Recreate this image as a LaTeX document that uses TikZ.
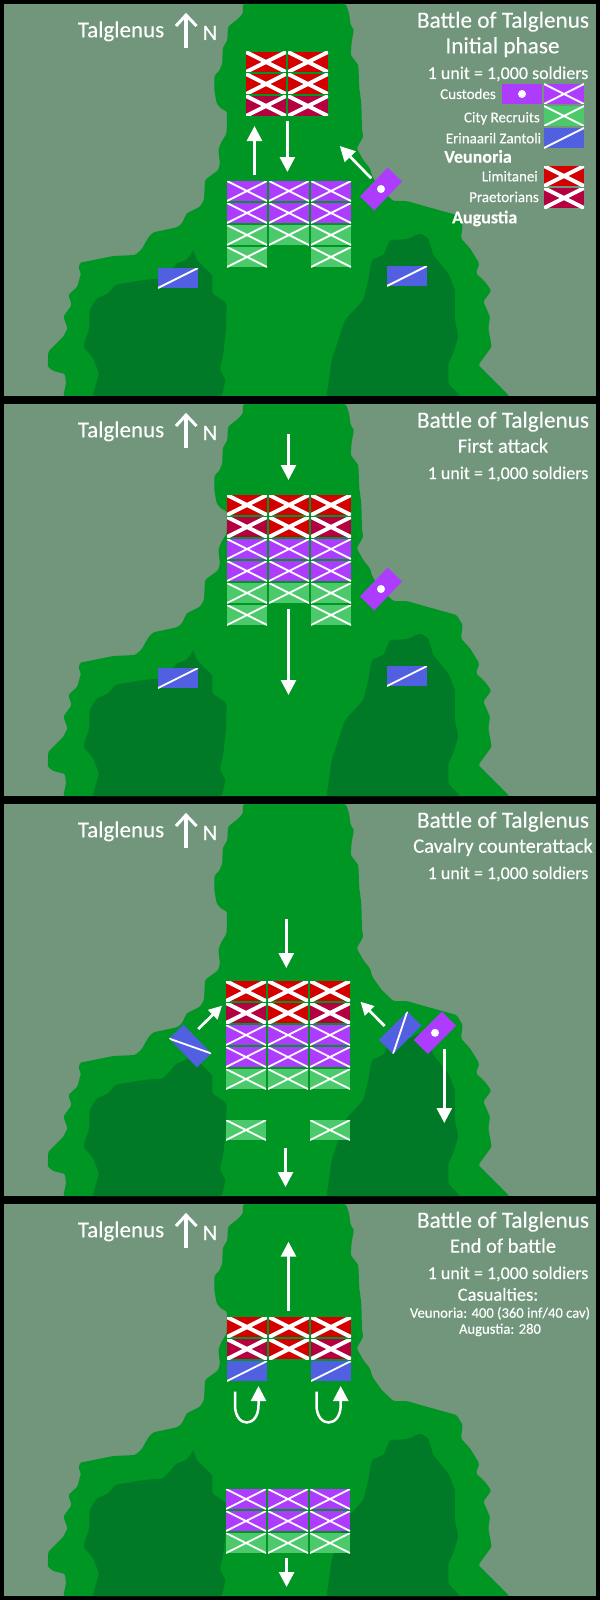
\documentclass[tikz,border=0pt]{standalone}
\usepackage{fontspec}
\setmainfont[FakeBold=0.2]{Carlito}
\usetikzlibrary{arrows.meta}
\definecolor{sea}{RGB}{113,150,124}
\definecolor{land}{RGB}{0,150,36}
\definecolor{forest}{RGB}{0,122,38}
\definecolor{purp}{RGB}{174,60,255}
\definecolor{recruit}{RGB}{76,201,106}
\definecolor{cav}{RGB}{80,96,224}
\definecolor{redu}{RGB}{212,0,0}
\definecolor{crim}{RGB}{181,0,64}
\tikzset{
  move/.style={white,line width=2.7pt,-{Triangle[length=15pt,width=15pt]}},
  movesm/.style={white,line width=2.7pt,-{Triangle[length=13pt,width=13pt]}},
  uturn/.style={white,line width=2.5pt,-{Triangle[length=15pt,width=15pt]}},
  label/.style={text=white,inner sep=0pt,anchor=base},
  titletext/.style={label,font=\fontsize{23.2}{24}\selectfont},
  subtext/.style={label,font=\fontsize{20.5}{22}\selectfont},
  unittext/.style={label,font=\fontsize{18}{20}\selectfont},
  legtext/.style={label,anchor=base east,font=\fontsize{15}{16}\selectfont},
  sidetext/.style={label,font=\bfseries\fontsize{18}{20}\selectfont},
  castext/.style={label,font=\fontsize{14.6}{16}\selectfont},
}
% unit with a white cross; args: left, top, colour, cross width
\newcommand\xunit[4]{\begin{scope}[shift={(#1+20,#2+10)}]
  \fill[#3] (-20,-10) rectangle (20,10);
  \begin{scope}\clip (-20,-10) rectangle (20,10);
  \draw[white,line width=#4pt] (-20,-10)--(20,10) (-20,10)--(20,-10);
  \end{scope}\end{scope}}
\newcommand\uR[2]{\xunit{#1}{#2}{redu}{4}}
\newcommand\uC[2]{\xunit{#1}{#2}{crim}{4}}
\newcommand\uP[2]{\xunit{#1}{#2}{purp}{1.8}}
\newcommand\uG[2]{\xunit{#1}{#2}{recruit}{1.8}}
% cavalry, args: centre x, centre y, rotation
\newcommand\uB[3]{\begin{scope}[shift={(#1,#2)},rotate=#3]
  \fill[cav] (-20,-10) rectangle (20,10);
  \begin{scope}\clip (-20,-10) rectangle (20,10);
  \draw[white,line width=1.8pt] (-20,10)--(20,-10);
  \end{scope}\end{scope}}
\newcommand\uK[3]{\begin{scope}[shift={(#1,#2)},rotate=#3]
  \fill[purp] (-20,-10) rectangle (20,10);
  \fill[white] (0,0) circle (4);
  \end{scope}}
\newcommand\rowP[2]{\uP{#1}{#2}\uP{#1+42}{#2}\uP{#1+84}{#2}}
\newcommand\rowG[2]{\uG{#1}{#2}\uG{#1+42}{#2}\uG{#1+84}{#2}}
\newcommand\rowR[2]{\uR{#1}{#2}\uR{#1+42}{#2}\uR{#1+84}{#2}}
\newcommand\rowM[2]{\uC{#1}{#2}\uR{#1+42}{#2}\uC{#1+84}{#2}}
% base map shared by every panel
\newcommand\basemap[1]{%
  \fill[sea] (4,4) rectangle (596,396);
  \begin{scope}[x=0.33333pt,y=-0.33333pt]
  \fill[land,rounded corners=1.5pt] (1038,12)--(1047,40)--(1052,75)--(1062,90)--(1055,125)--(1052,165)--(1075,195)--(1078,265)--(1084,310)--(1086,390)--(1090,410)--(1070,445)--(1090,480)--(1110,505)--(1117,530)--(1145,570)--(1180,603)--(1220,603)--(1280,620)--(1370,645)--(1388,675)--(1383,715)--(1410,745)--(1438,790)--(1428,820)--(1455,845)--(1474,872)--(1450,905)--(1470,950)--(1465,985)--(1475,1040)--(1435,1095)--(1490,1150)--(1528,1188)--
  (190,1188)--(198,1150)--(195,1122)--(160,1113)--(143,1100)--(145,1055)--(190,1010)--(203,985)--(190,950)--(215,915)--(205,885)--(232,860)--(243,820)--(236,805)--(240,788)--(340,768)--(405,765)--(425,748)--(445,712)--(460,697)--(530,682)--(545,672)--(560,640)--(600,620)--(612,600)--(615,540)--(655,510)--(660,490)--(655,450)--(662,430)--(680,400)--(681,335)--(662,325)--(650,310)--(643,270)--(643,228)--(658,212)--(667,190)--(668,145)--(682,120)--(684,80)--(712,58)--(729,40)--(729,12)--cycle;
  \fill[forest,rounded corners=1.5pt] (278,1188)--(297,1120)--(280,1075)--(250,1040)--(268,985)--(268,930)--(290,895)--(325,880)--(345,855)--(430,840)--(490,835)--(530,790)--(560,780)--(580,750)--(590,780)--(637,825)--(637,880)--(680,910)--(677,1000)--(670,1060)--(660,1110)--(677,1140)--(665,1188)--cycle;
  \fill[forest,rounded corners=1.5pt] (980,1188)--(995,1080)--(1035,960)--(1090,900)--(1105,840)--(1115,780)--(1150,765)--(1170,720)--(1220,718)--(1260,700)--(1285,715)--(1300,765)--(1345,820)--(1365,870)--(1365,960)--(1375,1010)--(1360,1060)--(1345,1090)--(1345,1150)--(1380,1188)--cycle;
  \end{scope}
  \node[label,font=\fontsize{23}{24}\selectfont] (place) at (121,37.3) {Talglenus};
  \draw[white,line width=3.6pt] (186,48)--(186,15);
  \draw[white,line width=3pt] (176,26)--(186,15)--(196.5,26);
  \node[label,font=\fontsize{22}{24}\selectfont] (north) at (210,40) {N};
  \node[titletext] (title) at (503,27.7) {Battle of Talglenus};
  \node[unittext] (scale) at (508,79) {1 unit = 1,000 soldiers};
  \node[subtext] (phase) at (503,52.7) {#1};
}
\begin{document}
\begin{tikzpicture}[x=1pt,y=-1pt]
\useasboundingbox (0,0) rectangle (600,1600);
\fill[black] (0,0) rectangle (600,1600);
% ---------- Panel 1
\begin{scope}[shift={(0,0)},name prefix=a-]
\basemap{}
\node[titletext] (phaseone) at (502.5,53.3) {Initial phase};
\uR{246}{52}\uR{288}{52}\uR{246}{74}\uR{288}{74}\uC{246}{96}\uC{288}{96}
\rowP{227}{181}\rowP{227}{203}\rowG{227}{225}\uG{227}{247}\uG{311}{247}
\uB{178}{278}{0}\uB{407}{276}{0}
\uK{381}{189}{46}
\draw[move] (254.5,175)--(254.5,126);
\draw[move] (287.4,121)--(287.4,172);
\draw[move] (371.2,178.3)--(339.8,146);
\node[legtext] (l1) at (496,99) {Custodes};
\node[legtext] (l2) at (540,122.3) {City Recruits};
\node[legtext] (l3) at (541.3,143.3) {Erinaaril Zantoli};
\node[sidetext] (l4) at (478,162.7) {Veunoria};
\node[legtext] (l5) at (538,181.3) {Limitanei};
\node[legtext] (l6) at (539,202) {Praetorians};
\node[sidetext] (l7) at (484.7,223.3) {Augustia};
\uK{522}{94}{0}\uP{544}{84}\uG{544}{106}\uB{564}{138}{0}\uR{544}{166}\uC{544}{188}
\end{scope}
% ---------- Panel 2
\begin{scope}[shift={(0,400)},name prefix=b-]
\basemap{First attack}
\rowR{227}{95}\rowM{227}{117}\rowP{227}{139}\rowP{227}{161}\rowG{227}{183}\uG{227}{205}\uG{311}{205}
\uB{178}{278}{0}\uB{407}{276}{0}
\uK{381}{189}{46}
\draw[move] (288.5,34)--(288.5,80);
\draw[move] (288.5,209)--(288.5,295);
\end{scope}
% ---------- Panel 3
\begin{scope}[shift={(0,800)},name prefix=c-]
\basemap{Cavalry counterattack}
\rowR{226}{181}\rowM{226}{203}\rowP{226}{225}\rowP{226}{247}\rowG{226}{269}\uG{226}{320}\uG{310}{320}
\uB{190.2}{246}{-46}\uB{400.2}{232.7}{45}
\uK{435}{232.8}{45}
\draw[move] (286.3,119)--(286.3,168);
\draw[move] (444.3,249)--(444.3,323);
\draw[move] (285.5,348)--(285.5,387);
\draw[movesm] (198.2,229)--(222,205.7);
\draw[movesm] (384.6,226)--(360.5,201.7);
\end{scope}
% ---------- Panel 4
\begin{scope}[shift={(0,1200)},name prefix=d-]
\basemap{End of battle}
\rowR{227}{117}\rowM{227}{139}\uB{247}{171}{0}\uB{331}{171}{0}
\rowP{226}{289}\rowP{226}{311}\rowG{226}{333}
\draw[move] (288.5,110.7)--(288.5,41.7);
\draw[move] (286.6,358)--(286.6,387);
\draw[uturn] (235,191.5)--(235,205) .. controls (235,228.3) and (258.5,228.3) .. (258.5,205)--(258.5,186);
\draw[uturn] (316.5,191.5)--(316.5,205) .. controls (316.5,228.3) and (340.7,228.3) .. (340.7,205)--(340.7,186);
\node[label,font=\fontsize{18.5}{20}\selectfont] (cas) at (498,100.7) {Casualties:};
\node[castext] (v) at (500,117.7) {Veunoria: 400 (360 inf/40 cav)};
\node[castext] (au) at (500,133.7) {Augustia: 280};
\end{scope}
\end{tikzpicture}
\end{document}
